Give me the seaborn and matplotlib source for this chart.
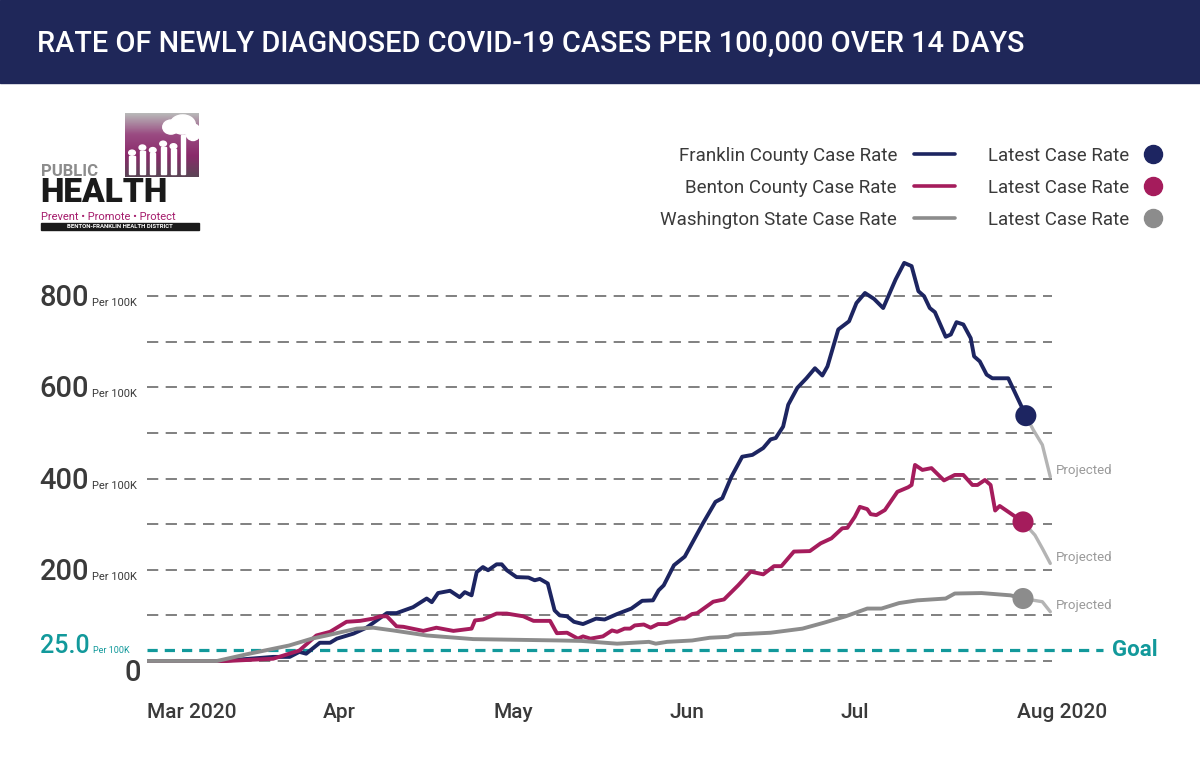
import numpy as np
import pandas as pd
import seaborn as sns
import matplotlib.pyplot as plt
import matplotlib.transforms as mtransforms
from matplotlib.lines import Line2D
from matplotlib.patches import Rectangle, Ellipse
from matplotlib.colors import LinearSegmentedColormap

# days after 1 Mar 2020, 14-day case rate per 100K
franklin_days = [0, 13, 22.2, 25.1, 26.8, 28, 30.4, 32.2, 33.4, 36.3,
                 38.6, 42.2, 43.9, 46.8, 49.2, 50.1, 51.2, 53.3, 55, 55.9,
                 57.1, 58, 59.1, 60, 61.5, 62.4, 63.3, 65, 67.1, 68.2,
                 69.1, 70.5, 71.7, 72.6, 73.9, 75.1, 76.7, 79, 80.5, 82.7,
                 85.2, 87.1, 89, 90, 90.9, 92.7, 94.6, 97.8, 100, 101.2,
                 102.8, 104.7, 106.5, 108.4, 109.7, 110.6, 111.9, 112.8, 114.4, 116,
                 117.5, 118.8, 119.7, 121.6, 123.5, 124.8, 126.3, 127.9, 129.5, 131.7,
                 133.2, 134.5, 135.7, 136.7, 137.7, 138.6, 140.5, 141.4, 142.4, 143.6,
                 144.9, 145.5, 146.5, 147.7, 148.7, 151.5, 154.6]
franklin_rate = [0, 0, 9, 9, 20, 16, 40, 40, 49, 60,
                 73, 105, 105, 118, 137, 129, 149, 154, 140, 151,
                 144, 195, 206, 199, 212, 212, 199, 184, 183, 177,
                 180, 170, 111, 100, 98, 86, 81, 93, 91, 103,
                 115, 132, 133, 155, 166, 210, 229, 302, 349, 357,
                 404, 448, 452, 467, 486, 489, 514, 562, 599, 620,
                 642, 626, 646, 727, 745, 785, 807, 794, 774, 837,
                 873, 866, 811, 800, 774, 765, 711, 716, 743, 738,
                 708, 668, 657, 628, 620, 620, 538]
franklin_proj_days = [154.6, 155.9, 157.5, 158.9]
franklin_proj_rate = [538, 507, 474, 404]

benton_days = [0, 14, 22.2, 26.8, 29.8, 32.2, 35.1, 37.5, 39.8, 41,
               42.2, 43.9, 45.1, 48.6, 50.9, 53.9, 57.1, 57.7, 59.1, 61.5,
               63.3, 66.2, 68, 70.9, 72.1, 73.9, 75.8, 76.7, 78, 80.2,
               81.8, 82.7, 84, 85, 85.8, 87.4, 88.6, 89.9, 91.5, 93.7,
               94.6, 95.9, 96.8, 99.6, 101.5, 104, 106.2, 108.4, 110.3, 111.6,
               113.8, 116.6, 118.5, 120.4, 122.3, 123.2, 124.5, 125.4, 126.7, 127.3,
               128.3, 129.8, 132, 133.9, 134.5, 135.1, 136.4, 138, 140.2, 142.1,
               143.6, 145.2, 146.1, 147.4, 148.4, 149.2, 150, 154.1]
benton_rate = [0, 0, 5, 23, 56, 64, 86, 88, 93, 98,
               98, 76, 75, 66, 73, 66, 71, 89, 91, 104,
               104, 98, 88, 88, 61, 62, 49, 54, 49, 54,
               67, 64, 71, 71, 78, 80, 73, 81, 81, 93,
               93, 103, 105, 130, 135, 166, 196, 190, 208, 208,
               240, 241, 258, 269, 291, 292, 316, 338, 333, 322,
               320, 331, 371, 381, 386, 430, 419, 423, 396, 408,
               408, 386, 386, 397, 386, 330, 340, 305]
benton_proj_days = [154.1, 156.2, 157.5, 158.9]
benton_proj_rate = [305, 276, 247, 214]

wa_days = [0, 12.3, 18, 25, 29, 31.6, 36.9, 39.8, 43.3, 49.2,
           57.4, 72.6, 76.4, 82.7, 88.3, 89.5, 91.5, 95.9, 99, 102.2,
           103.4, 109.7, 115.3, 119.1, 122.9, 126.7, 129.2, 132.3, 135.5, 140.5,
           142.1, 146.8, 151.9, 154.1]
wa_rate = [0, 0, 16, 34, 49, 56, 71, 73, 67, 56,
           48, 45, 44, 38, 42, 38, 42, 45, 51, 53,
           58, 62, 71, 84, 98, 115, 115, 127, 133, 137,
           148, 149, 144, 137]
wa_proj_days = [154.1, 157.5, 158.9]
wa_proj_rate = [137, 130, 108]

series_names = ['Franklin County Case Rate', 'Benton County Case Rate',
                'Washington State Case Rate']
grid_levels = [0, 100, 200, 300, 400, 500, 600, 700, 800]
label_levels = [200, 400, 600, 800]
goal = 25
month_labels = ['Mar 2020', 'Apr', 'May', 'Jun', 'Jul', 'Aug 2020']

navy = '#1d2561'
magenta = '#a51c5c'
grey = '#8c8c8c'
proj_grey = '#b4b4b4'
teal = '#12999b'
text_col = '#3a3a3a'
colors = [navy, magenta, grey]

start = pd.Timestamp('2020-03-01')


def to_dates(days):
    return start + pd.to_timedelta(days, unit='D')


frames, proj_frames = [], []
for name, d, r, pd_, pr in zip(series_names,
                               [franklin_days, benton_days, wa_days],
                               [franklin_rate, benton_rate, wa_rate],
                               [franklin_proj_days, benton_proj_days, wa_proj_days],
                               [franklin_proj_rate, benton_proj_rate, wa_proj_rate]):
    frames.append(pd.DataFrame({'date': to_dates(d), 'rate': r, 'series': name}))
    proj_frames.append(pd.DataFrame({'date': to_dates(pd_), 'rate': pr, 'series': name}))
df = pd.concat(frames, ignore_index=True)
proj = pd.concat(proj_frames, ignore_index=True)
latest = df.groupby('series', sort=False).tail(1)

sns.set_style('white')
plt.rcParams['font.family'] = ['Roboto', 'DejaVu Sans']

W, H = 1200, 776
fig = plt.figure(figsize=(12, 7.76), dpi=100)
ax = fig.add_axes([147 / W, 86 / H, 905 / W, 440 / H])

# background grid and goal
for lv in grid_levels:
    ax.axhline(lv, color='#808080', lw=1.4, ls=(0, (5.8, 3.8)), zorder=1)
ax.axhline(goal, xmin=0, xmax=1.056, color=teal, lw=2.3, ls=(0, (3.2, 2.2)),
           clip_on=False, zorder=2)

# projections, then the observed series, then latest points
sns.lineplot(data=proj, x='date', y='rate', units='series', estimator=None,
             color=proj_grey, lw=2.4, ax=ax, zorder=3)
sns.lineplot(data=df, x='date', y='rate', hue='series', hue_order=series_names,
             palette=colors, estimator=None, lw=2.8, legend=False, ax=ax, zorder=4)
sns.scatterplot(data=latest, x='date', y='rate', hue='series', hue_order=series_names,
                palette=colors, s=230, linewidth=0, legend=False, ax=ax, zorder=5)

for _, row in proj.groupby('series', sort=False).tail(1).iterrows():
    ax.annotate('Projected', xy=(row['date'], row['rate']), xytext=(6, 6),
                textcoords='offset pixels', fontsize=9.5, color='#9a9a9a',
                va='center', ha='left', annotation_clip=False)

ax.set_xlim(start, start + pd.Timedelta(days=159.2))
ax.set_ylim(-63.6, 901.3)
sns.despine(ax=ax, left=True, bottom=True)
ax.set_xlabel('')
ax.set_ylabel('')
ax.set_yticks([])
ax.set_xticks(pd.date_range('2020-03-01', '2020-08-01', freq='MS'))
ax.set_xticklabels(month_labels, fontsize=15, color=text_col, ha='left',
                   fontweight='medium')
ax.tick_params(axis='x', length=0, pad=9)

# y labels with the small "Per 100K"
ytr = ax.get_yaxis_transform()
for lv in label_levels:
    t = mtransforms.offset_copy(ytr, fig=fig, x=0, y=-10, units='dots')
    ax.text(-0.064, lv, str(lv), transform=t, ha='right', va='baseline',
            fontsize=21, fontweight='medium', color=text_col)
    ax.text(-0.061, lv, 'Per 100K', transform=t, ha='left', va='baseline',
            fontsize=8, color=text_col)
t0 = mtransforms.offset_copy(ytr, fig=fig, x=0, y=-20, units='dots')
ax.text(-0.007, 0, '0', transform=t0, ha='right', va='baseline', fontsize=21,
        fontweight='medium', color=text_col)
tg = mtransforms.offset_copy(ytr, fig=fig, x=0, y=-3.5, units='dots')
ax.text(-0.063, goal, '25.0', transform=tg, ha='right', va='baseline', fontsize=18,
        fontweight='medium', color=teal)
ax.text(-0.060, goal, 'Per 100K', transform=tg, ha='left', va='baseline', fontsize=6.5, color=teal)
ax.text(1.066, goal, 'Goal', transform=ytr, ha='left', va='center', fontsize=16,
        fontweight='bold', color=teal)

# header
fig.add_artist(Rectangle((0, 1 - 83 / H), 1, 83 / H, transform=fig.transFigure,
                         color='#1f2759', zorder=0))
fig.text(37 / W, 1 - 44 / H, 'RATE OF NEWLY DIAGNOSED COVID-19 CASES PER 100,000 OVER 14 DAYS',
         color='white', fontsize=20.8, fontweight='medium', va='center', ha='left')

# legend
for i, (name, c) in enumerate(zip(series_names, colors)):
    yy = 1 - (154 + 32 * i) / H
    fig.text(897 / W, yy, name, ha='right', va='center_baseline', fontsize=13.5, color=text_col)
    fig.add_artist(Line2D([914 / W, 955 / W], [yy, yy], color=c, lw=2.6,
                          transform=fig.transFigure))
    fig.text(988 / W, yy, 'Latest Case Rate', ha='left', va='center_baseline',
             fontsize=13.5, color=text_col)
    fig.add_artist(Line2D([1153 / W], [yy], marker='o', ms=13, color=c, lw=0,
                          transform=fig.transFigure))

# logo
lax = fig.add_axes([125 / W, 1 - 177 / H, 74 / W, 64 / H])
cmap = LinearSegmentedColormap.from_list('logo', ['#b8b8b8', '#9a4b82', '#8a2a6a', '#5b4556'])
lax.imshow(np.linspace(0, 1, 60)[:, None], aspect='auto', cmap=cmap, extent=(0, 1, 0, 1))
for cx, cy, w, h in [(0.78, 0.82, 0.34, 0.3), (0.62, 0.78, 0.22, 0.22), (0.92, 0.7, 0.2, 0.26)]:
    lax.add_patch(Ellipse((cx, cy), w, h, color='white'))
lax.add_patch(Rectangle((0.76, 0.05), 0.05, 0.6, color='white'))
for px, ph in [(0.06, 0.28), (0.2, 0.36), (0.34, 0.32), (0.48, 0.42), (0.62, 0.38)]:
    lax.add_patch(Rectangle((px, 0.05), 0.07, ph, color='white'))
    lax.add_patch(Ellipse((px + 0.035, 0.1 + ph), 0.09, 0.08, color='white'))
lax.set_xlim(0, 1)
lax.set_ylim(0, 1)
lax.axis('off')
fig.text(41 / W, 1 - 176 / H, 'PUBLIC', fontsize=12, fontweight='bold', color='#8c8c8c',
         va='baseline', ha='left')
fig.text(40 / W, 1 - 202 / H, 'HEALTH', fontsize=24, fontweight='black', color='#1a1a1a',
         va='baseline', ha='left')
fig.text(41 / W, 1 - 220 / H, 'Prevent \u2022 Promote \u2022 Protect', fontsize=8,
         color='#a51c6c', va='baseline', ha='left')
fig.add_artist(Rectangle((41 / W, 1 - 230 / H), 158 / W, 7 / H, transform=fig.transFigure,
                         color='#1a1a1a'))
fig.text(120 / W, 1 - 226.5 / H, 'BENTON-FRANKLIN HEALTH DISTRICT', fontsize=4.3,
         fontweight='bold', color='white', va='center', ha='center')

fig.savefig('out.png', dpi=100, facecolor='white')
